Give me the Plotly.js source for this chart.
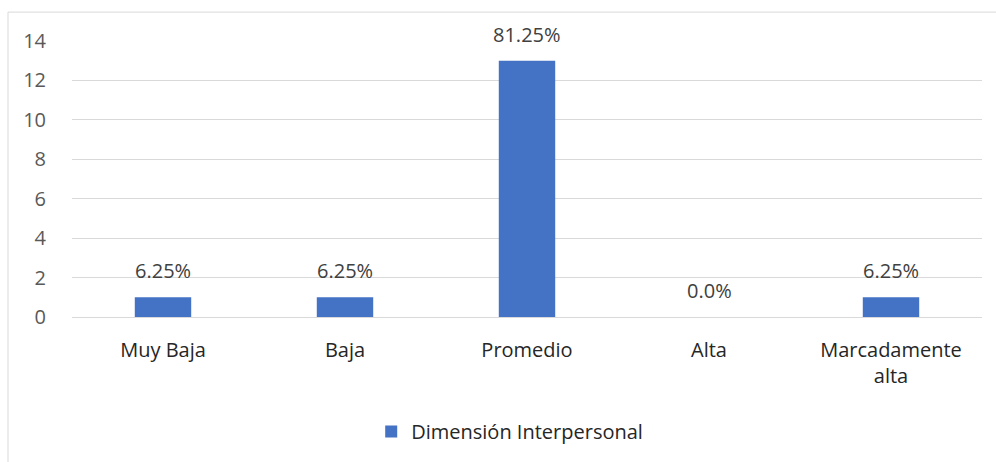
<!DOCTYPE html>
<html>
<head>
<meta charset="utf-8">
<script src="https://cdn.plot.ly/plotly-3.0.1.min.js"></script>
<style>
html,body{margin:0;padding:0;background:#fff;}
#chart{width:996px;height:462px;}
</style>
</head>
<body>
<div id="chart"></div>
<script>
const categories = ["Muy Baja", "Baja", "Promedio", "Alta", "Marcadamente<br>alta"];
const counts = [1, 1, 13, 0, 1];
const percentLabels = ["6.25%", "6.25%", "81.25%", "0.0%", "6.25%"];
const seriesName = "Dimensión Interpersonal";
const yTicks = [0, 2, 4, 6, 8, 10, 12, 14];

const FONT = "'Open Sans', Lato, sans-serif";
const FS = 20;

const trace = {
  type: "bar",
  x: categories,
  y: counts,
  name: seriesName,
  marker: {color: "#4472c4"},
  showlegend: true,
  hoverinfo: "none"
};

const annotations = categories.map((c, i) => ({
  x: c, y: counts[i], xref: "x", yref: "y",
  text: percentLabels[i], showarrow: false,
  yanchor: "bottom", yshift: 11,
  font: {family: FONT, size: FS, color: "#404040"}
}));

const layout = {
  width: 996, height: 462,
  margin: {l: 72, r: 14, t: 41, b: 144},
  paper_bgcolor: "#fff", plot_bgcolor: "#fff",
  font: {family: FONT, size: FS, color: "#404040"},
  bargap: 0.69,
  xaxis: {
    type: "category",
    showgrid: false, zeroline: false, showline: false,
    ticks: "outside", ticklen: 15, tickcolor: "rgba(0,0,0,0)",
    tickfont: {family: FONT, size: FS, color: "#262626"}
  },
  yaxis: {
    range: [0, 14], tickvals: yTicks, ticktext: yTicks.map(String),
    showgrid: true, gridcolor: "#d9d9d9", gridwidth: 1,
    zeroline: true, zerolinecolor: "#d9d9d9", zerolinewidth: 1,
    showline: false,
    ticks: "outside", ticklen: 21, tickcolor: "rgba(0,0,0,0)",
    tickfont: {family: FONT, size: FS, color: "#595959"}
  },
  legend: {
    orientation: "h", x: 0.481, xanchor: "center", y: -0.41, yanchor: "middle",
    font: {family: FONT, size: FS, color: "#262626"}
  },
  annotations: annotations,
  shapes: [{
    type: "rect", xref: "paper", yref: "paper",
    x0: -64/910, x1: 940/910, y0: -160/277, y1: 306/277,
    line: {color: "#d9d9d9", width: 1}, fillcolor: "rgba(0,0,0,0)", layer: "below"
  }]
};

Plotly.newPlot("chart", [trace], layout, {displayModeBar: false, staticPlot: true});
</script>
</body>
</html>
